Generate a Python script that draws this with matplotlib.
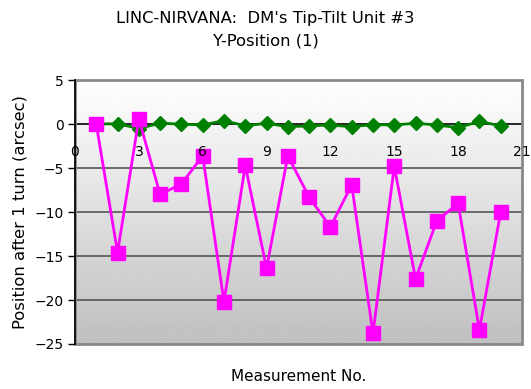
import matplotlib.pyplot as plt
import numpy as np
from matplotlib.patches import Rectangle

plt.rcParams['font.family'] = ['DejaVu Sans']

# measurement index and tip-tilt Y positions after one turn (arcsec)
measurement = list(range(1, 21))
pos_a = [0.0, -14.6, 0.6, -8.0, -6.8, -3.6, -20.2, -4.7, -16.4, -3.6,
         -8.3, -11.7, -6.9, -23.8, -4.8, -17.6, -11.0, -9.0, -23.4, -10.0]
pos_b = [0.0, 0.05, -0.5, 0.1, 0.0, -0.1, 0.4, -0.2, 0.1, -0.3,
         -0.2, -0.1, -0.3, -0.05, -0.1, 0.1, -0.1, -0.4, 0.3, -0.2]
xticks = [0, 3, 6, 9, 12, 15, 18, 21]
yticks = [5, 0, -5, -10, -15, -20, -25]

fig = plt.figure(figsize=(5.31, 3.89), dpi=100)
ax = fig.add_axes([0.1412, 0.1157, 0.8418, 0.6783])

# grey gradient background, light at the top
grad = np.linspace(1.0, 0.75, 256).reshape(-1, 1)
ax.imshow(grad, cmap='gray', vmin=0, vmax=1, aspect='auto',
          extent=[0, 1, 0, 1], transform=ax.transAxes, zorder=0)

ax.set_xlim(0, 21)
ax.set_ylim(-25, 5)

for y in [-5, -10, -15, -20]:
    ax.axhline(y, color='#555555', lw=1.2, zorder=1)

# x tick marks kept below the data markers
ax.vlines(xticks, -0.45, 0, color='black', lw=1, zorder=2, clip_on=False)

ax.plot(measurement, pos_b, color='#008000', lw=2, marker='D', ms=7.2,
        markeredgecolor='#008000', zorder=3)
ax.plot(measurement, pos_a, color='#ff00ff', lw=2, marker='s', ms=10,
        markeredgecolor='#ff00ff', zorder=4)

# frame
ax.add_patch(Rectangle((0, 0), 1, 1, transform=ax.transAxes, fill=False,
                       edgecolor='#888888', lw=2, zorder=5, clip_on=False))
for s in ['top', 'right']:
    ax.spines[s].set_visible(False)
ax.spines['left'].set_color('black')
ax.spines['left'].set_linewidth(1.2)
ax.spines['left'].set_zorder(6)
ax.spines['bottom'].set_position(('data', 0))
ax.spines['bottom'].set_color('black')
ax.spines['bottom'].set_linewidth(1.2)
ax.spines['bottom'].set_zorder(2)

# axis labels sit on top of the data lines
ax.xaxis.set_zorder(10)
ax.yaxis.set_zorder(10)

ax.set_xticks(xticks)
ax.set_yticks(yticks)
ax.tick_params(axis='x', length=0, pad=15, labelsize=10)
ax.tick_params(axis='y', direction='out', length=5, width=1, pad=3, labelsize=10)

ax.set_ylabel('Position after 1 turn (arcsec)', fontsize=11.8, labelpad=5)
fig.text(0.562, 0.031, 'Measurement No.', ha='center', va='center', fontsize=11)
fig.text(0.5, 0.953, "LINC-NIRVANA:  DM's Tip-Tilt Unit #3", ha='center', va='center', fontsize=11.8)
fig.text(0.5, 0.894, 'Y-Position (1)', ha='center', va='center', fontsize=11.8)

fig.savefig('out.png', dpi=100)
